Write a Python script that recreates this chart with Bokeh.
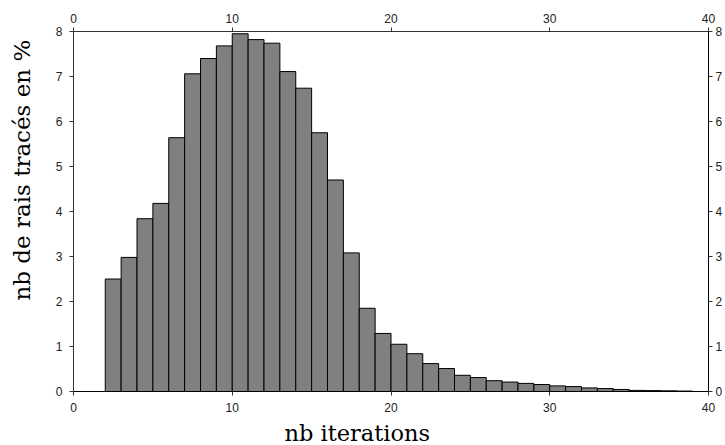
from bokeh.plotting import figure
from bokeh.models import LinearAxis, Range1d, FixedTicker, Title, ColumnDataSource
from bokeh.embed import file_html
from bokeh.resources import INLINE

# Histogram data: bin left edges (nb iterations) and percentage of rays
bin_left = list(range(2, 39))
percent = [2.50, 2.98, 3.84, 4.18, 5.64, 7.06, 7.40, 7.68, 7.95, 7.82,
           7.74, 7.11, 6.74, 5.75, 4.70, 3.08, 1.85, 1.29, 1.05, 0.84,
           0.62, 0.51, 0.36, 0.31, 0.24, 0.21, 0.18, 0.155, 0.125, 0.11,
           0.08, 0.065, 0.045, 0.025, 0.02, 0.015, 0.01]
x_ticks = [0, 10, 20, 30, 40]
y_ticks = [0, 1, 2, 3, 4, 5, 6, 7, 8]
x_label = "nb iterations"
y_label = "nb de rais tracés en %"

src = ColumnDataSource(dict(
    left=bin_left,
    right=[b + 1 for b in bin_left],
    top=percent,
    bottom=[0] * len(percent),
))

p = figure(width=725, height=445, x_range=Range1d(0, 40), y_range=Range1d(0, 8),
           output_backend="svg", toolbar_location=None)
p.grid.visible = False
p.outline_line_color = None
p.background_fill_color = "white"
p.border_fill_color = "white"
p.min_border_left = 73
p.min_border_right = 17
p.min_border_top = 31
p.min_border_bottom = 54

p.quad(left="left", right="right", top="top", bottom="bottom", source=src,
       fill_color="#808080", line_color="black", line_width=1)

p.add_layout(LinearAxis(), "above")
p.add_layout(LinearAxis(), "right")

TICK_FONT = "Liberation Sans"
for ax in p.xaxis:
    ax.ticker = FixedTicker(ticks=x_ticks)
for ax in p.yaxis:
    ax.ticker = FixedTicker(ticks=y_ticks)
for ax in p.xaxis + p.yaxis:
    ax.axis_line_color = "#333333"
    ax.axis_line_width = 1
    ax.major_tick_line_color = "#333333"
    ax.major_tick_out = 4
    ax.major_tick_in = 0
    ax.minor_tick_line_color = None
    ax.major_label_text_font = TICK_FONT
    ax.major_label_text_font_size = "12px"
    ax.major_label_text_color = "#222222"
p.left[0].major_label_standoff = 7
p.right[0].major_label_standoff = 3
p.above[0].major_label_standoff = 5
p.below[0].major_label_standoff = 7
p.right[0].axis_line_color = "black"
p.below[0].axis_line_color = "black"

# thin blank spacers between the axes and the axis titles
p.add_layout(Title(text=" ", text_font_size="1px", standoff=0), "below")
p.add_layout(Title(text=" ", text_font_size="1px", standoff=13), "left")

xt = Title(text=x_label, align="left", offset=211, vertical_align="bottom",
           text_font="DejaVu Serif", text_font_size="22.5px",
           text_font_style="normal", text_color="black", standoff=0)
yt = Title(text=y_label, align="left", offset=91, vertical_align="bottom",
           text_font="DejaVu Serif", text_font_size="23px",
           text_font_style="normal", text_color="black", standoff=4)
p.add_layout(xt, "below")
p.add_layout(yt, "left")

open("out.html", "w").write(file_html(p, INLINE))
